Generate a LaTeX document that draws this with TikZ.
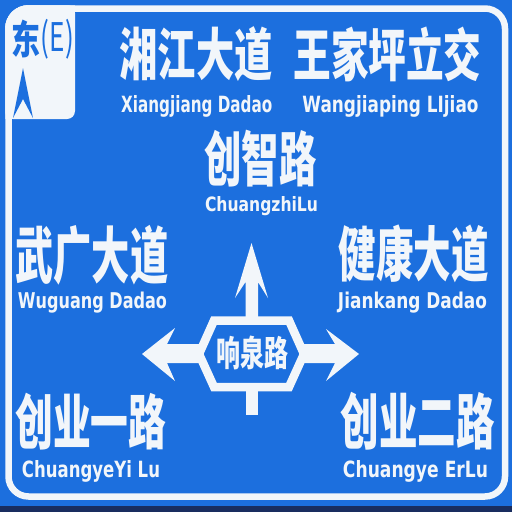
\documentclass[tikz,border=0pt]{standalone}
\usepackage{fontspec}
\newfontfamily\cjk{Noto Sans CJK SC}
\newfontfamily\pyf{DejaVu Sans}
\definecolor{signblue}{RGB}{28,111,222}
\definecolor{signwhite}{RGB}{242,246,250}
\definecolor{signnavy}{RGB}{25,45,95}
\newcommand\zh[3]{\resizebox*{#1pt}{#2pt}{\cjk\bfseries #3}}
\newcommand\zhr[3]{\resizebox*{#1pt}{#2pt}{\cjk #3}}
\newcommand\py[3]{\resizebox{#1pt}{#2pt}{\pyf\bfseries #3}}
\begin{document}
\begin{tikzpicture}[x=1pt,y=-1pt,
  txt/.style={inner sep=0pt, outer sep=0pt, text=signwhite},
  pin/.style={inner sep=0pt, outer sep=0pt, text=signwhite, anchor=base},
  shapefill/.style={fill=signwhite}]
\useasboundingbox (0,0) rectangle (512,512);
\fill[signblue] (0,0) rectangle (512,512);
\fill[signnavy] (0,506) rectangle (512,512);
% white corner box
\begin{scope}
  \clip[rounded corners=23] (5.25,5.25) rectangle (508.25,499.75);
  \fill[signwhite, rounded corners=8] (5,5) rectangle (75,119);
  \fill[signwhite] (5,5) rectangle (75,60);
  \fill[signwhite] (5,5) rectangle (40,119);
\end{scope}
\draw[signwhite, line width=6.5, rounded corners=20] (8.5,8.5) rectangle (505,496.5);
\node[txt, text=signblue] (dong) at (26.5,39) {\zh{29}{38}{东}};
\node[txt, text=signblue] (east) at (57.5,39.5) {\zhr{33}{40}{(E)}};
\fill[signblue] (23,68) -- (33,118) -- (23,99) -- (13,118) -- cycle;
% arrows
\fill[shapefill] (251.5,243) -- (268,298) -- (258,282) -- (258,322) -- (245.5,322) -- (245.5,282) -- (235,298) -- cycle;
\fill[shapefill] (142,354) -- (175,328) -- (167,344) -- (204,344) -- (204,363) -- (167,363) -- (175,381) -- cycle;
\fill[shapefill] (359,354) -- (326,329) -- (335,344) -- (300,344) -- (300,363) -- (335,363) -- (326,381) -- cycle;
\fill[shapefill] (245.5,385) rectangle (258,415);
\filldraw[fill=signblue, draw=signwhite, line width=8.5, line join=miter]
  (199,354) -- (214,320.5) -- (289,320.5) -- (304,354) -- (289,387) -- (214,387) -- cycle;
\node[txt] (xq) at (252,353) {\zh{72}{34}{响泉路}};
% Chinese names
\node[txt] (xj) at (196,54.5) {\zh{153}{55}{湘江大道}};
\node[txt] (wj) at (387.5,54.5) {\zh{188}{55}{王家坪立交}};
\node[txt] (cz) at (260.5,158.5) {\zh{112}{57}{创智路}};
\node[txt] (wg) at (92,255) {\zh{153}{60}{武广大道}};
\node[txt] (jk) at (413.5,254) {\zh{150}{58}{健康大道}};
\node[txt] (cy1) at (91,421.5) {\zh{151}{57}{创业一路}};
\node[txt] (cy2) at (417.5,421) {\zh{154}{58}{创业二路}};
% pinyin
\node[pin] (pxj) at (196.7,112) {\py{151}{17}{Xiangjiang Dadao}};
\node[pin] (pwj) at (390.5,112) {\py{176}{17}{Wangjiaping LIjiao}};
\node[pin] (pcz) at (261.5,211) {\py{113}{15}{ChuangzhiLu}};
\node[pin] (pwg) at (92.5,308) {\py{149}{16.5}{Wuguang Dadao}};
\node[pin] (pjk) at (412.5,308) {\py{149}{16.5}{Jiankang Dadao}};
\node[pin] (pcy1) at (91,477) {\py{138}{17}{ChuangyeYi Lu}};
\node[pin] (pcy2) at (415.5,477) {\py{145}{17}{Chuangye ErLu}};
\end{tikzpicture}
\end{document}
